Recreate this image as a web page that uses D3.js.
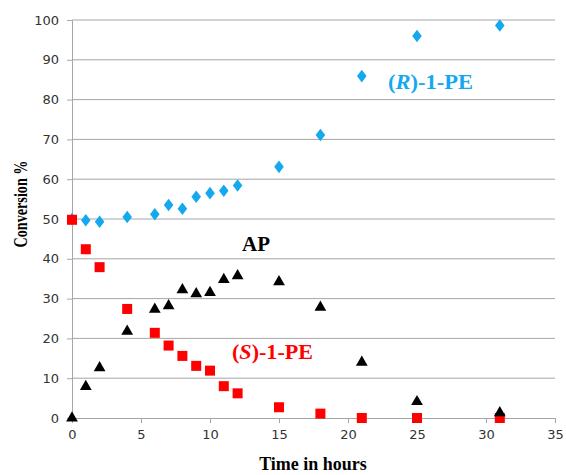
<!DOCTYPE html>
<html>
<head>
<meta charset="utf-8">
<script src="https://cdn.jsdelivr.net/npm/d3@7"></script>
<style>
  body { margin: 0; background: #fff; }
</style>
</head>
<body>
<svg id="chart" width="566" height="475"></svg>
<script>
// data
const hours = [0, 1, 2, 4, 6, 7, 8, 9, 10, 11, 12, 15, 18, 21, 25, 31];
const rPE = [50, 49.7, 49.3, 50.5, 51.2, 53.5, 52.6, 55.6, 56.5, 57.1, 58.4, 63.1, 71.1, 85.9, 96.0, 98.6];
const sPE = [49.8, 42.4, 37.9, 27.4, 21.4, 18.2, 15.6, 13.1, 11.9, 8.0, 6.2, 2.7, 1.1, 0, 0, 0];
const ap = [0, 7.9, 12.6, 21.8, 27.3, 28.2, 32.2, 31.2, 31.5, 34.8, 35.7, 34.2, 27.8, 14.0, 4.1, 1.3];
const xTicks = [0, 5, 10, 15, 20, 25, 30, 35];
const yTicks = [0, 10, 20, 30, 40, 50, 60, 70, 80, 90, 100];

const w = 566, h = 475;
const m = { left: 72, right: 11, top: 20, bottom: 57 };

const svg = d3.select('#chart');

const x = d3.scaleLinear().domain([0, 35]).range([m.left, w - m.right]);
const y = d3.scaleLinear().domain([0, 100]).range([h - m.bottom, m.top]);

// gridlines
svg.append('g')
  .selectAll('line')
  .data(yTicks.filter(d => d > 0))
  .enter()
  .append('line')
  .attr('x1', m.left).attr('x2', w - m.right)
  .attr('y1', d => y(d)).attr('y2', d => y(d))
  .attr('stroke', '#a6a6a6').attr('stroke-width', 1);

// y axis
const yAxis = svg.append('g')
  .attr('transform', `translate(${m.left},0)`)
  .call(d3.axisLeft(y).tickValues(yTicks).tickSize(5).tickPadding(8));

// x axis
const xAxis = svg.append('g')
  .attr('transform', `translate(0,${y(0)})`)
  .call(d3.axisBottom(x).tickValues(xTicks).tickSize(5).tickPadding(7));

[yAxis, xAxis].forEach(a => {
  a.select('.domain').attr('stroke', '#a6a6a6');
  a.selectAll('.tick line').attr('stroke', '#a6a6a6');
  a.selectAll('.tick text')
    .attr('fill', '#333')
    .style('font-family', 'Verdana, "DejaVu Sans", sans-serif')
    .style('font-size', '13px');
});

// markers
const points = (vals) => hours.map((t, i) => ({ t: t, v: vals[i] }));

svg.append('g')
  .selectAll('path')
  .data(points(rPE))
  .enter()
  .append('path')
  .attr('d', d3.symbol().type(d3.symbolDiamond).size(60))
  .attr('transform', d => `translate(${x(d.t)},${y(d.v)}) scale(1.15,0.87)`)
  .attr('fill', '#14a9ee');

svg.append('g')
  .selectAll('rect')
  .data(points(sPE))
  .enter()
  .append('rect')
  .attr('x', d => x(d.t) - 5)
  .attr('y', d => y(d.v) - 5)
  .attr('width', 10).attr('height', 10)
  .attr('fill', '#ff0000');

svg.append('g')
  .selectAll('path')
  .data(points(ap))
  .enter()
  .append('path')
  .attr('d', d3.symbol().type(d3.symbolTriangle).size(60))
  .attr('transform', d => `translate(${x(d.t)},${y(d.v)})`)
  .attr('fill', '#000');

// series labels
const serif = '"Liberation Serif", "Times New Roman", serif';

const rLab = svg.append('text')
  .attr('x', 388).attr('y', 89)
  .attr('fill', '#14a9ee')
  .attr('textLength', 85).attr('lengthAdjust', 'spacingAndGlyphs')
  .style('font-family', serif).style('font-weight', 'bold').style('font-size', '21px');
rLab.append('tspan').text('(');
rLab.append('tspan').style('font-style', 'italic').text('R');
rLab.append('tspan').text(')-1-PE');

svg.append('text')
  .attr('x', 242).attr('y', 251)
  .attr('fill', '#000')
  .style('font-family', serif).style('font-weight', 'bold').style('font-size', '21px')
  .text('AP');

const sLab = svg.append('text')
  .attr('x', 232).attr('y', 359)
  .attr('fill', '#ff0000')
  .attr('textLength', 81).attr('lengthAdjust', 'spacingAndGlyphs')
  .style('font-family', serif).style('font-weight', 'bold').style('font-size', '21px');
sLab.append('tspan').text('(');
sLab.append('tspan').style('font-style', 'italic').text('S');
sLab.append('tspan').text(')-1-PE');

// axis titles
svg.append('text')
  .attr('transform', 'translate(27,204) rotate(-90)')
  .attr('text-anchor', 'middle')
  .attr('textLength', 87).attr('lengthAdjust', 'spacingAndGlyphs')
  .style('font-family', serif).style('font-weight', 'bold').style('font-size', '18px')
  .text('Conversion %');

svg.append('text')
  .attr('x', 313).attr('y', 470)
  .attr('text-anchor', 'middle')
  .style('font-family', serif).style('font-weight', 'bold').style('font-size', '18px')
  .text('Time in hours');
</script>
</body>
</html>
